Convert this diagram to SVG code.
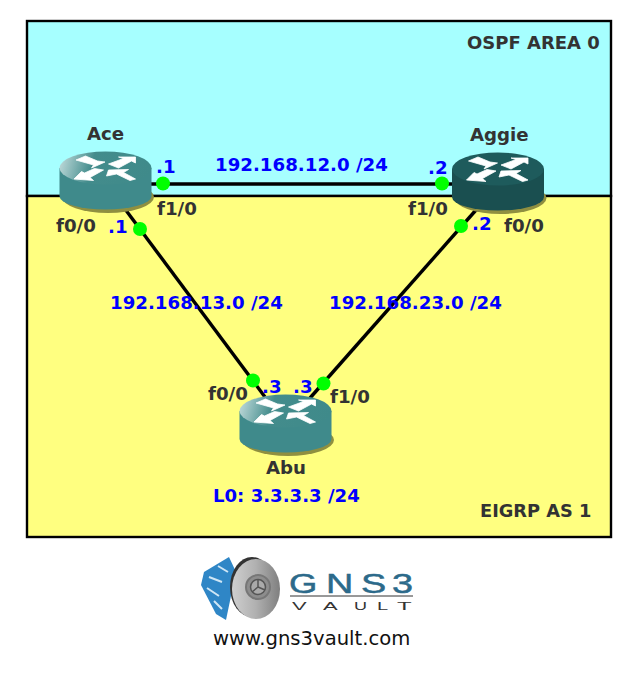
<svg xmlns="http://www.w3.org/2000/svg" width="638" height="700" viewBox="0 0 638 700">
<style>
text{font-family:"DejaVu Sans",sans-serif;font-weight:bold}
.b{font-size:18.2px;fill:#0000ff}
.l{font-size:18.2px;fill:#333333}
.w{stroke:#000;stroke-width:3.4;fill:none}
.d{fill:#00ff00}
.arr{fill:#fff;stroke:#fff;stroke-width:.8;stroke-linejoin:round}
.lg{font-family:"Liberation Sans",sans-serif;font-weight:normal}
</style>
<defs>
<linearGradient id="top" x1="0" x2="1" y1="0.4" y2="0.5"><stop offset="0" stop-color="#b9d6d6"/><stop offset="0.35" stop-color="#438c8c"/><stop offset="1" stop-color="#3f8a8a"/></linearGradient>
<linearGradient id="disc" x1="0" x2="1" y1="0" y2="0"><stop offset="0" stop-color="#cfcfcf"/><stop offset="0.5" stop-color="#b0b0b0"/><stop offset="1" stop-color="#7f7f7f"/></linearGradient>
<g id="arrows">
<path class="arr" d="M-29.500 -8 L-20 -12 L-8 -7 L-.5 -6 L-14 0 L-12 -3 Z"/>
<path class="arr" d="M3 -4 L18 -9.500 L13 -11 L30 -11 L30 -5 L26 -7 L13 0 Z"/>
<path class="arr" d="M-2 2 L-11 .5 L-21 5 L-24 3.500 L-31.500 11 L-12 12.500 L-15.500 9.500 Z"/>
<path class="arr" d="M1 8 L3 2 L23 1.500 L18 4.500 L30 11 L24.500 12.500 L11 6 Z"/>
</g>
<g id="r1"><ellipse cx="2.500" cy="29" rx="46" ry="16" fill="#8f8f40"/><path d="M-46 0 V28 A46 13.500 0 0 0 46 28 V0 Z" fill="#3f8a8b"/><ellipse cx="0" cy="0" rx="46" ry="16.500" fill="url(#top)"/><use href="#arrows"/></g>
<g id="r2"><ellipse cx="2.500" cy="29" rx="46" ry="16" fill="#8f8f40"/><path d="M-46 0 V28 A46 13.500 0 0 0 46 28 V0 Z" fill="#1a4f50"/><ellipse cx="0" cy="0" rx="46" ry="16.500" fill="#1e5b5c"/><use href="#arrows"/></g>
</defs>
<rect x="0" y="0" width="638" height="700" fill="#fff"/>
<g id="areas">
<rect x="27" y="21" width="584" height="175" fill="#a6ffff" stroke="#000" stroke-width="2.4"/>
<rect x="27" y="196" width="584" height="341" fill="#ffff80" stroke="#000" stroke-width="2.4"/>
<text x="467" y="49" class="l" style="font-size:18px">OSPF AREA 0</text>
<text x="480" y="517" class="l" style="font-size:17.8px">EIGRP AS 1</text>
</g>
<g id="connectors">
<line class="w" x1="150" y1="184" x2="453" y2="184"/>
<line class="w" x1="125" y1="209" x2="265" y2="397"/>
<line class="w" x1="476" y1="210" x2="310" y2="398"/>
</g>
<g id="Ace"><use href="#r1" x="105.5" y="168"/><text x="87" y="140" class="l">Ace</text></g>
<g id="Aggie"><use href="#r2" x="498" y="169"/><text x="470" y="141" class="l">Aggie</text></g>
<g id="Abu"><use href="#r1" x="285.5" y="411"/><text x="266" y="474" class="l">Abu</text></g>
<g id="dots">
<circle class="d" cx="163" cy="183.500" r="7"/><circle class="d" cx="442" cy="183.500" r="7"/>
<circle class="d" cx="140" cy="229" r="7"/><circle class="d" cx="461" cy="226" r="7"/>
<circle class="d" cx="253" cy="380.500" r="7"/><circle class="d" cx="323.500" cy="383.500" r="7"/>
</g>
<g id="labels">
<text x="215" y="171" class="b">192.168.12.0 /24</text>
<text x="110" y="309" class="b">192.168.13.0 /24</text>
<text x="329" y="309" class="b">192.168.23.0 /24</text>
<text x="213" y="502" class="b" style="font-size:18.1px">L0: 3.3.3.3 /24</text>
<text x="156" y="173" class="b">.1</text>
<text x="428" y="174" class="b">.2</text>
<text x="108" y="233" class="b">.1</text>
<text x="472" y="230" class="b">.2</text>
<text x="262" y="393" class="b">.3</text>
<text x="293" y="393" class="b">.3</text>
<text x="157" y="215" class="l">f1/0</text>
<text x="56" y="232" class="l">f0/0</text>
<text x="408" y="215" class="l">f1/0</text>
<text x="504" y="232" class="l">f0/0</text>
<text x="208" y="400" class="l">f0/0</text>
<text x="330" y="403" class="l">f1/0</text>
</g>
<g id="logo">
<path d="M204 572 L229 557 L236 572 L226 620 L216 614 L201 585 Z" fill="#2f86c6"/>
<path d="M209 577 L222 582 M207 588 L219 596 M214 601 L222 609 M218 566 L228 572" stroke="#cfe6f5" stroke-width="2" fill="none"/>
<ellipse cx="252" cy="587" rx="22" ry="30" fill="#333"/>
<ellipse cx="256" cy="589" rx="24" ry="30" fill="url(#disc)"/>
<circle cx="258" cy="587" r="12" fill="#8d8d8d" stroke="#777" stroke-width="2"/>
<circle cx="258" cy="587" r="7.500" fill="#aaa" stroke="#555" stroke-width="1.500"/>
<path d="M258 580 V587 L252 592 M258 587 L265 590" stroke="#555" stroke-width="1.500" fill="none"/>
<g class="lg" fill="#2c6a8a" stroke="#2c6a8a" stroke-width=".5">
<text class="lg" transform="translate(289 593) scale(1.3 1)" style="font-size:28px">G</text>
<text class="lg" transform="translate(326 593) scale(1.35 1)" style="font-size:28px">N</text>
<text class="lg" transform="translate(361 593) scale(1.35 1)" style="font-size:28px">S</text>
<text class="lg" transform="translate(392 593) scale(1.35 1)" style="font-size:28px">3</text>
</g>
<line x1="290" y1="596" x2="413" y2="596" stroke="#333" stroke-width="1"/>
<g fill="#333">
<text class="lg" transform="translate(292 610) scale(2.2 1)" style="font-size:10px">V</text>
<text class="lg" transform="translate(323 610) scale(2.2 1)" style="font-size:10px">A</text>
<text class="lg" transform="translate(354 610) scale(1.800 1)" style="font-size:10px">U</text>
<text class="lg" transform="translate(377 610) scale(2 1)" style="font-size:10px">L</text>
<text class="lg" transform="translate(397 610) scale(2.4 1)" style="font-size:10px">T</text>
</g>
<text x="213" y="645" style="font-family:'DejaVu Sans',sans-serif;font-weight:normal;font-size:19.6px" fill="#111">www.gns3vault.com</text>
</g>
</svg>
